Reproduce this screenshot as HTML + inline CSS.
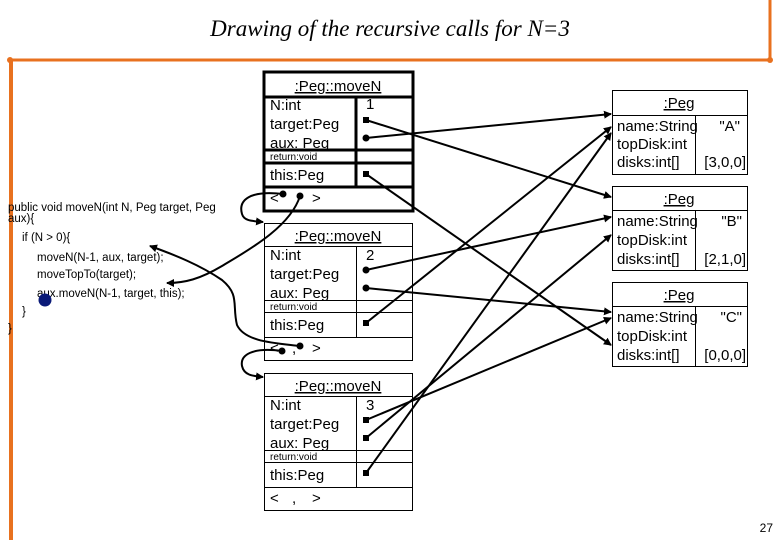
<!DOCTYPE html>
<html><head><meta charset="utf-8"><style>
html,body{margin:0;padding:0;background:#fff;}
svg{display:block;}
text{font-family:"Liberation Sans",sans-serif;fill:#000;}
</style></head><body>
<svg width="780" height="540" viewBox="0 0 780 540" xmlns="http://www.w3.org/2000/svg">
<defs>
<marker id="ar" markerWidth="8" markerHeight="8" refX="7" refY="4" orient="auto" markerUnits="userSpaceOnUse">
<path d="M0,0 L8,4 L0,8 z" fill="#000"/></marker>
</defs>
<text x="390" y="36" text-anchor="middle" style="font-family:'Liberation Serif',serif;font-size:23px;font-style:italic">Drawing of the recursive calls for N=3</text>
<line x1="9" y1="60" x2="770" y2="60" stroke="#e8711f" stroke-width="3"/>
<line x1="770" y1="0" x2="770" y2="60" stroke="#e8711f" stroke-width="3"/>
<line x1="11" y1="60" x2="11" y2="540" stroke="#e8711f" stroke-width="4"/>
<circle cx="10" cy="60" r="3" fill="#e8711f"/><circle cx="770" cy="60" r="3" fill="#e8711f"/>
<text x="773" y="532" text-anchor="end" style="font-size:12px">27</text>

<g style="font-size:11.5px">
<text x="8" y="211">public void moveN(int N, Peg target, Peg</text>
<text x="8" y="222">aux){</text>
<text x="22" y="241">if (N &gt; 0){</text>
<text x="37" y="261">moveN(N-1, aux, target);</text>
<text x="37" y="278">moveTopTo(target);</text>
<text x="37" y="297">aux.moveN(N-1, target, this);</text>
<text x="22" y="315">}</text>
<text x="8" y="332">}</text>
</g>
<circle cx="45" cy="300" r="6.5" fill="#0a1a78"/>

<g fill="none" stroke="#000">
<rect x="264" y="72" width="149" height="139" stroke-width="3"/>
<line x1="264" y1="97" x2="413" y2="97" stroke-width="3"/>
<line x1="356" y1="97" x2="356" y2="187" stroke-width="3"/>
<line x1="264" y1="150" x2="413" y2="150" stroke-width="3"/>
<line x1="264" y1="163" x2="413" y2="163" stroke-width="3"/>
<line x1="264" y1="187" x2="413" y2="187" stroke-width="3"/>

<rect x="264.5" y="223.5" width="148" height="137"/>
<line x1="264" y1="246.5" x2="413" y2="246.5"/>
<line x1="356.5" y1="246" x2="356.5" y2="337"/>
<line x1="264" y1="300.5" x2="413" y2="300.5"/>
<line x1="264" y1="312.5" x2="413" y2="312.5"/>
<line x1="264" y1="337.5" x2="413" y2="337.5"/>

<rect x="264.5" y="373.5" width="148" height="137"/>
<line x1="264" y1="396.5" x2="413" y2="396.5"/>
<line x1="356.5" y1="396" x2="356.5" y2="487"/>
<line x1="264" y1="450.5" x2="413" y2="450.5"/>
<line x1="264" y1="462.5" x2="413" y2="462.5"/>
<line x1="264" y1="487.5" x2="413" y2="487.5"/>
</g>
<g style="font-size:15px">
<text x="338" y="91" text-anchor="middle" text-decoration="underline">:Peg::moveN</text>
<text x="270" y="110">N:int</text><text x="366" y="109">1</text>
<text x="270" y="129">target:Peg</text>
<text x="270" y="148">aux: Peg</text>
<text x="270" y="160" style="font-size:10px">return:void</text>
<text x="270" y="180">this:Peg</text>
<text x="270" y="203">&lt;</text><text x="312" y="203">&gt;</text>

<text x="338" y="241" text-anchor="middle" text-decoration="underline">:Peg::moveN</text>
<text x="270" y="260">N:int</text><text x="366" y="260">2</text>
<text x="270" y="279">target:Peg</text>
<text x="270" y="298">aux: Peg</text>
<text x="270" y="310" style="font-size:10px">return:void</text>
<text x="270" y="330">this:Peg</text>
<text x="270" y="353">&lt;</text><text x="292" y="353">,</text><text x="312" y="353">&gt;</text>

<text x="338" y="391" text-anchor="middle" text-decoration="underline">:Peg::moveN</text>
<text x="270" y="410">N:int</text><text x="366" y="410">3</text>
<text x="270" y="429">target:Peg</text>
<text x="270" y="448">aux: Peg</text>
<text x="270" y="460" style="font-size:10px">return:void</text>
<text x="270" y="480">this:Peg</text>
<text x="270" y="503">&lt;</text><text x="292" y="503">,</text><text x="312" y="503">&gt;</text>
</g>

<g fill="none" stroke="#000">
<rect x="612.5" y="90.5" width="135" height="84"/>
<line x1="612" y1="115.5" x2="748" y2="115.5"/>
<line x1="695.5" y1="115" x2="695.5" y2="175"/>
<rect x="612.5" y="186.5" width="135" height="84"/>
<line x1="612" y1="210.5" x2="748" y2="210.5"/>
<line x1="695.5" y1="210" x2="695.5" y2="271"/>
<rect x="612.5" y="282.5" width="135" height="84"/>
<line x1="612" y1="306.5" x2="748" y2="306.5"/>
<line x1="695.5" y1="306" x2="695.5" y2="367"/>
</g>
<g style="font-size:15px">
<text x="679" y="108" text-anchor="middle" text-decoration="underline">:Peg</text>
<text x="617" y="131">name:String</text><text x="740" y="131" text-anchor="end">"A"</text>
<text x="617" y="149">topDisk:int</text>
<text x="617" y="167">disks:int[]</text><text x="746" y="167" text-anchor="end">[3,0,0]</text>
<text x="679" y="204" text-anchor="middle" text-decoration="underline">:Peg</text>
<text x="617" y="226">name:String</text><text x="742" y="226" text-anchor="end">"B"</text>
<text x="617" y="245">topDisk:int</text>
<text x="617" y="264">disks:int[]</text><text x="746" y="264" text-anchor="end">[2,1,0]</text>
<text x="679" y="300" text-anchor="middle" text-decoration="underline">:Peg</text>
<text x="617" y="322">name:String</text><text x="742" y="322" text-anchor="end">"C"</text>
<text x="617" y="341">topDisk:int</text>
<text x="617" y="360">disks:int[]</text><text x="746" y="360" text-anchor="end">[0,0,0]</text>
</g>

<g stroke="#000" stroke-width="2" fill="none" marker-end="url(#ar)">
<line x1="366" y1="120" x2="611" y2="197"/>
<line x1="366" y1="138" x2="611" y2="114"/>
<line x1="366" y1="174" x2="611" y2="345"/>
<line x1="366" y1="270" x2="611" y2="217"/>
<line x1="366" y1="288" x2="611" y2="312"/>
<line x1="366" y1="323" x2="611" y2="127"/>
<line x1="366" y1="420" x2="611" y2="318"/>
<line x1="366" y1="438" x2="611" y2="235"/>
<line x1="366" y1="473" x2="611" y2="133"/>
<path d="M283,194 C250,190 238,200 242,214 C244,221 252,221 263,222"/>
<path d="M300,196 C290,228 245,252 222,266 C200,279 185,283 167,283"/>
<path d="M300,346 C275,343 245,342 237,325 C232,305 240,295 222,280 C200,265 175,255 150,246"/>
<path d="M282,351 C252,347 240,355 242,366 C244,375 252,376 263,377"/>
</g>
<g fill="#000">
<rect x="363" y="117" width="6" height="6"/><circle cx="366" cy="138" r="3.5"/><rect x="363" y="171" width="6" height="6"/>
<circle cx="366" cy="270" r="3.5"/><circle cx="366" cy="288" r="3.5"/><rect x="363" y="320" width="6" height="6"/>
<rect x="363" y="417" width="6" height="6"/><rect x="363" y="435" width="6" height="6"/><rect x="363" y="470" width="6" height="6"/>
<circle cx="283" cy="194" r="3.5"/><circle cx="300" cy="196" r="3.5"/>
<circle cx="282" cy="351" r="3.5"/><circle cx="300" cy="346" r="3.5"/>
</g>
</svg>
</body></html>
